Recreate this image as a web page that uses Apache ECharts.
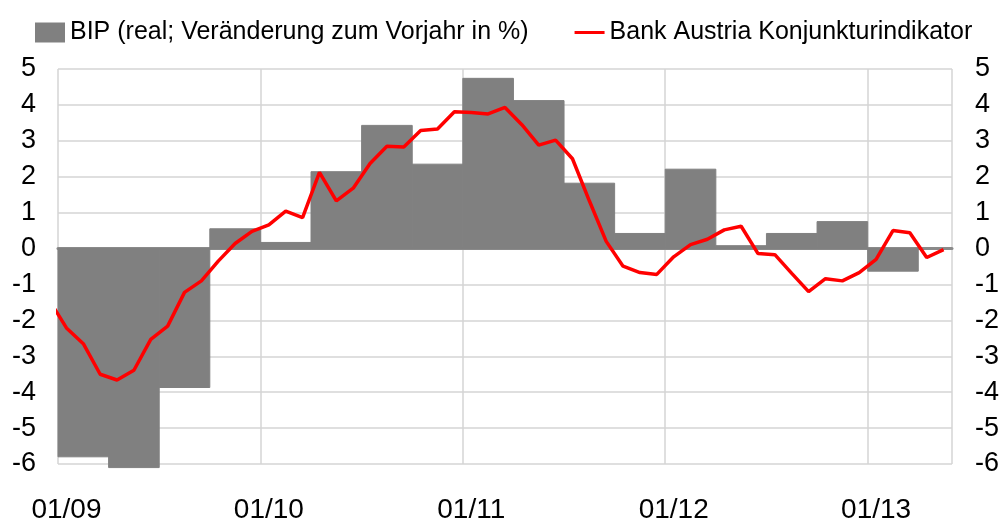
<!DOCTYPE html>
<html>
<head>
<meta charset="utf-8">
<script src="https://cdn.jsdelivr.net/npm/echarts@6/dist/echarts.min.js"></script>
<style>
  html, body { margin: 0; padding: 0; background: #fff; }
  #chart { width: 1002px; height: 524px; }
</style>
</head>
<body>
<div id="chart"></div>
<script>
// Monatsachse 01/09 .. 05/13
var months = [];
for (var y = 9; y <= 13; y++) {
    for (var m = 1; m <= 12; m++) {
        if (y === 13 && m > 5) break;
        months.push((m < 10 ? '0' + m : '' + m) + '/' + (y < 10 ? '0' + y : '' + y));
    }
}

// BIP real, Veränderung zum Vorjahr in % (Quartale Q1/09 .. Q1/13)
var bipQuarterly = [-5.8, -6.1, -3.87, 0.55, 0.17, 2.14, 3.43, 2.35, 4.74, 4.12, 1.82, 0.42, 2.21, 0.08, 0.42, 0.75, -0.63];

// Bank Austria Konjunkturindikator, monatlich ab 12/08 (erster Wert liegt links ausserhalb)
var indicatorLead = -1.45;
var indicator = [
    -2.21, -2.65, -3.50, -3.66, -3.39, -2.53, -2.16, -1.22, -0.90, -0.35, 0.14, 0.48,
    0.66, 1.04, 0.86, 2.12, 1.33, 1.68, 2.37, 2.85, 2.83, 3.29, 3.33, 3.81,
    3.79, 3.75, 3.93, 3.45, 2.88, 3.02, 2.50, 1.33, 0.20, -0.49, -0.67, -0.72,
    -0.23, 0.11, 0.26, 0.52, 0.62, -0.14, -0.17, -0.69, -1.20, -0.84, -0.90, -0.67,
    -0.30, 0.50, 0.44, -0.25, -0.03
];

var FONT = 'Liberation Sans, Arial, sans-serif';

var bipData = bipQuarterly.map(function (v, i) {
    return [i * 3, i * 3 + 3, v];
});
var lineData = [[-0.5, indicatorLead]].concat(indicator.map(function (v, i) {
    return [i + 0.5, v];
}));

var myChart = echarts.init(document.getElementById('chart'), null, {renderer: 'canvas'});

var option = {
    animation: false,
    backgroundColor: '#fff',
    textStyle: {fontFamily: FONT},
    legend: {
        left: 30,
        top: 15,
        itemWidth: 30,
        itemHeight: 20,
        itemGap: 46,
        symbolKeepAspect: true,
        textStyle: {fontSize: 25, color: '#000', fontFamily: FONT},
        data: [
            {name: 'BIP (real; Veränderung zum Vorjahr in %)', icon: 'rect'},
            {name: 'Bank Austria Konjunkturindikator', icon: 'path://M0,0 H30 V3 H0 Z'}
        ]
    },
    grid: {left: 58, right: 49, top: 69, bottom: 57, containLabel: false},
    xAxis: [
        {
            type: 'category',
            data: months,
            boundaryGap: true,
            axisLine: {show: false, onZero: false},
            axisTick: {show: false, interval: 11},
            axisLabel: {interval: 11, fontSize: 28, color: '#000', margin: 32, fontFamily: FONT},
            splitLine: {show: true, interval: 11, lineStyle: {color: '#d4d4d4', width: 1.5}}
        },
        {
            type: 'value',
            min: 0,
            max: months.length,
            show: true,
            axisLine: {show: true, onZero: true, lineStyle: {color: '#8a8a8a', width: 3}},
            axisTick: {show: false},
            axisLabel: {show: false},
            splitLine: {show: false}
        }
    ],
    yAxis: [
        {
            type: 'value',
            min: -6,
            max: 5,
            interval: 1,
            axisLine: {show: false},
            axisTick: {show: false},
            axisLabel: {fontSize: 27, color: '#000', margin: 22, fontFamily: FONT},
            splitLine: {show: true, lineStyle: {color: '#d4d4d4', width: 1.5}}
        },
        {
            type: 'value',
            min: -6,
            max: 5,
            interval: 1,
            position: 'right',
            axisLine: {show: false},
            axisTick: {show: false},
            axisLabel: {fontSize: 27, color: '#000', margin: 23, fontFamily: FONT},
            splitLine: {show: false}
        }
    ],
    series: [
        {
            name: 'BIP (real; Veränderung zum Vorjahr in %)',
            type: 'custom',
            xAxisIndex: 1,
            yAxisIndex: 0,
            clip: false,
            z: 1,
            itemStyle: {color: '#808080'},
            renderItem: function (params, api) {
                var p0 = api.coord([api.value(0), api.value(2)]);
                var p1 = api.coord([api.value(1), 0]);
                return {
                    type: 'rect',
                    shape: {
                        x: p0[0],
                        y: Math.min(p0[1], p1[1]),
                        width: p1[0] - p0[0],
                        height: Math.abs(p1[1] - p0[1])
                    },
                    style: {fill: '#808080', stroke: '#808080', lineWidth: 1}
                };
            },
            encode: {x: [0, 1], y: 2},
            data: bipData
        },
        {
            name: 'Bank Austria Konjunkturindikator',
            type: 'line',
            xAxisIndex: 1,
            yAxisIndex: 0,
            symbol: 'none',
            clip: true,
            z: 3,
            lineStyle: {color: '#ff0000', width: 3.5},
            itemStyle: {color: '#ff0000'},
            data: lineData
        }
    ]
};

myChart.setOption(option);
</script>
</body>
</html>
